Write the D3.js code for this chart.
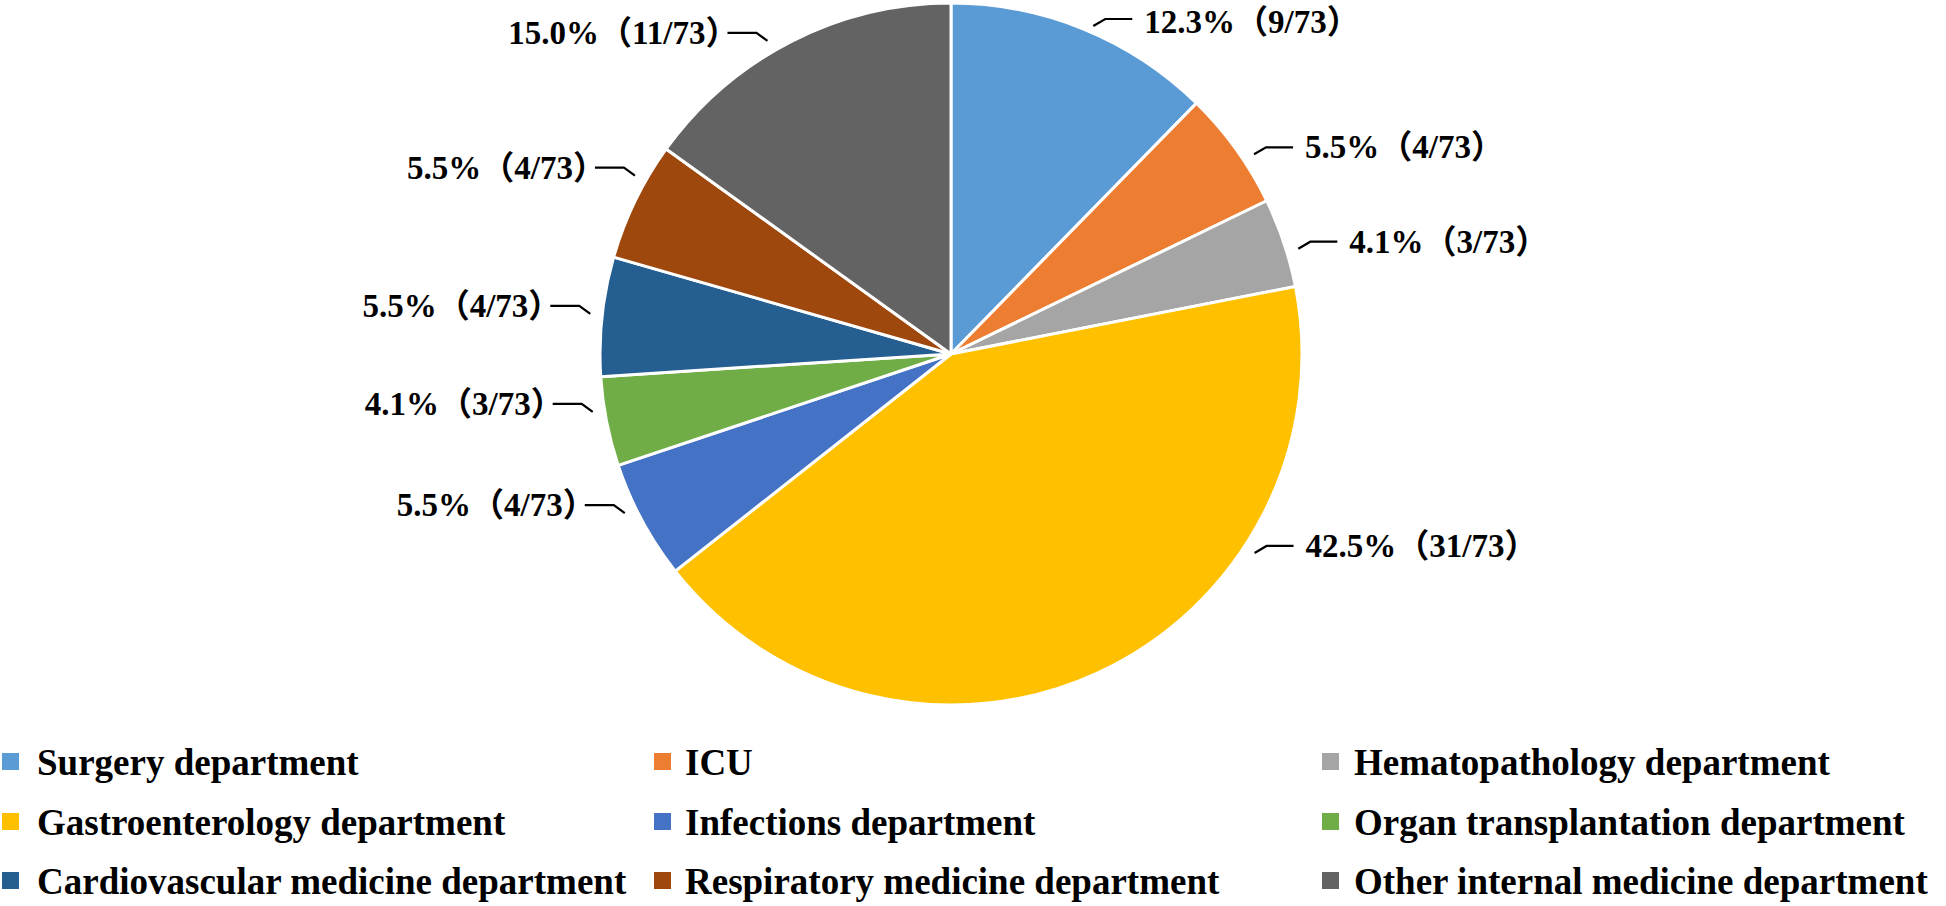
<!DOCTYPE html>
<html>
<head>
<meta charset="utf-8">
<script src="https://cdn.jsdelivr.net/npm/d3@7/dist/d3.min.js"></script>
<style>
  html, body { margin: 0; padding: 0; background: #ffffff; }
  svg { display: block; }
  text { font-family: "Liberation Serif", "Times New Roman", "Noto Sans CJK SC", serif; font-weight: bold; fill: #000; }
</style>
</head>
<body>
<script>
// ---- data ----
const categories = [
  "Surgery department", "ICU", "Hematopathology department",
  "Gastroenterology department", "Infections department", "Organ transplantation department",
  "Cardiovascular medicine department", "Respiratory medicine department", "Other internal medicine department"
];
const counts = [9, 4, 3, 31, 4, 3, 4, 4, 11];
const total = 73;
const percentLabels = ["12.3%", "5.5%", "4.1%", "42.5%", "5.5%", "4.1%", "5.5%", "5.5%", "15.0%"];
const colors = ["#5B9BD5", "#ED7D31", "#A5A5A5", "#FFC000", "#4472C4", "#70AD47", "#255E91", "#9E480E", "#636363"];

// ---- layout ----
const W = 1946, H = 906;
const cx = 951, cy = 354, R = 351;
// where along each slice the label leader attaches (fraction of slice angle)
const labelFrac = [0.52, 0.62, 0.61, 0.29, 0.62, 0.63, 0.51, 0.68, 0.44];

const svg = d3.select("body").append("svg").attr("width", W).attr("height", H);

const pie = d3.pie().sort(null).value(d => d);
const arcs = pie(counts);
const arc = d3.arc().innerRadius(0).outerRadius(R);

const g = svg.append("g").attr("transform", `translate(${cx},${cy})`);
g.selectAll("path.slice").data(arcs).enter().append("path")
  .attr("class", "slice")
  .attr("d", arc)
  .attr("fill", (d, i) => colors[i])
  .attr("stroke", "#ffffff")
  .attr("stroke-width", 3)
  .attr("stroke-linejoin", "round");

// labels with leaders
const labelR = R * 1.034;
const labG = svg.append("g");
arcs.forEach((d, i) => {
  const a = d.startAngle + labelFrac[i] * (d.endAngle - d.startAngle);
  const px = cx + labelR * Math.sin(a);
  let py = cy - labelR * Math.cos(a);
  py = Math.max(py, 26);            // keep labels inside the top edge
  const right = Math.sin(a) > 0;
  let pts, tx, anchor;
  if (right) {
    const ex = px + 12, ey = py - 7;
    pts = [[px, py], [ex, ey], [ex + 27, ey]];
    tx = ex + 27 + 12; anchor = "start";
  } else {
    const ex = px - 11, ey = py - 8;
    pts = [[px, py], [ex, ey], [ex - 29, ey]];
    tx = ex - 29 + 11; anchor = "end";
  }
  labG.append("path")
    .attr("d", d3.line()(pts))
    .attr("fill", "none")
    .attr("stroke", "#000")
    .attr("stroke-width", 2.2);
  labG.append("text")
    .attr("x", tx)
    .attr("y", Math.max(pts[2][1] + 11, 33))
    .attr("text-anchor", anchor)
    .attr("font-size", 33)
    .text(`${percentLabels[i]}（${counts[i]}/${total}）`);
});

// legend
const colSquareX = [2, 654, 1322];
const colTextX = [37, 685, 1354];
const rowBase = [775, 835, 894];
const leg = svg.append("g");
categories.forEach((c, i) => {
  const col = i % 3, row = Math.floor(i / 3);
  leg.append("rect")
    .attr("x", colSquareX[col])
    .attr("y", rowBase[row] - 22)
    .attr("width", 17)
    .attr("height", 17)
    .attr("fill", colors[i]);
  leg.append("text")
    .attr("x", colTextX[col])
    .attr("y", rowBase[row])
    .attr("font-size", 37)
    .text(c);
});
</script>
</body>
</html>
